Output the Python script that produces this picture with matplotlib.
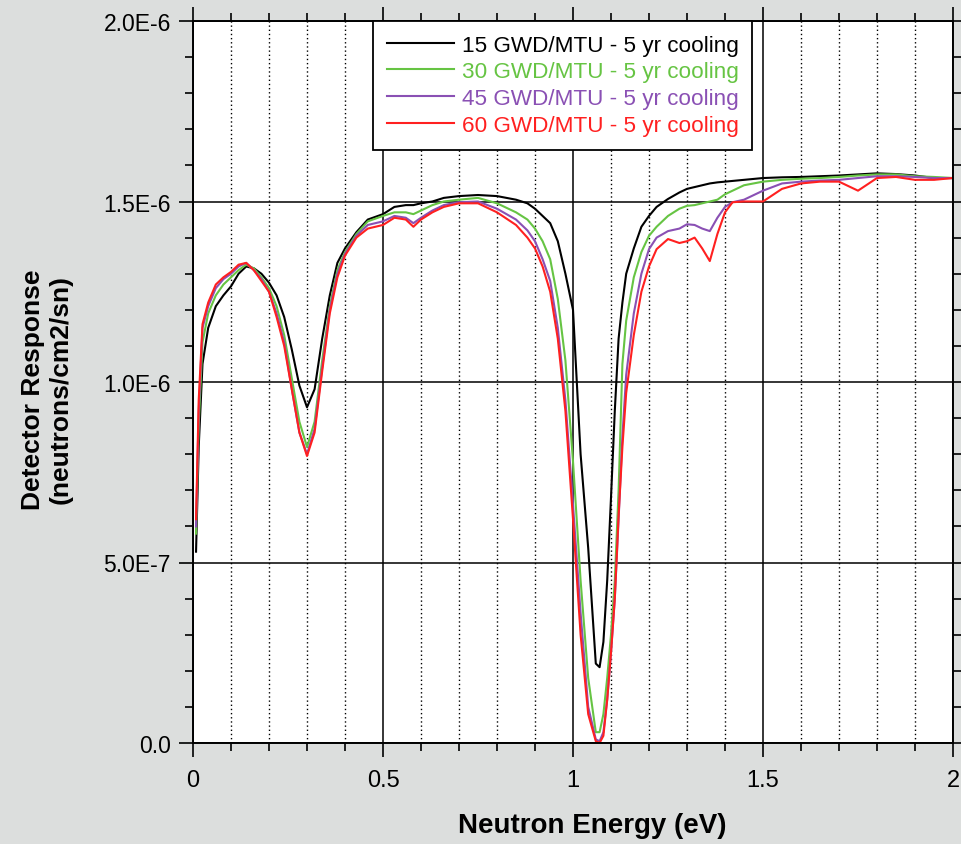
import numpy as np
import matplotlib
matplotlib.use("Agg")
import matplotlib.pyplot as plt
from matplotlib.ticker import MultipleLocator

plt.rcParams['font.family'] = ['Liberation Sans', 'DejaVu Sans']

# energy grid (eV) and detector response (x 1e-6 neutrons/cm2/sn)
energy = [0.008, 0.015, 0.025, 0.04, 0.06, 0.08, 0.10, 0.12, 0.14, 0.16, 0.18, 0.20,
          0.22, 0.24, 0.26, 0.28, 0.30, 0.32, 0.34, 0.36, 0.38, 0.40, 0.43, 0.46,
          0.50, 0.53, 0.56, 0.58, 0.60, 0.63, 0.66, 0.70, 0.75, 0.80, 0.85, 0.88,
          0.90, 0.92, 0.94, 0.96, 0.98, 1.00, 1.02, 1.04, 1.06, 1.07, 1.08, 1.09,
          1.10, 1.11, 1.12, 1.13, 1.14, 1.16, 1.18, 1.20, 1.22, 1.25, 1.28, 1.30,
          1.32, 1.34, 1.36, 1.38, 1.40, 1.42, 1.45, 1.50, 1.55, 1.60, 1.65, 1.70,
          1.75, 1.80, 1.85, 1.90, 1.95, 2.00]

resp_15 = [0.53, 0.82, 1.05, 1.15, 1.21, 1.24, 1.265, 1.30, 1.32, 1.315, 1.30, 1.275,
           1.24, 1.18, 1.09, 0.99, 0.93, 0.98, 1.12, 1.24, 1.33, 1.37, 1.415, 1.45,
           1.465, 1.485, 1.49, 1.49, 1.495, 1.50, 1.51, 1.515, 1.518, 1.515, 1.505, 1.495,
           1.48, 1.46, 1.44, 1.39, 1.30, 1.20, 0.80, 0.54, 0.22, 0.21, 0.28, 0.45,
           0.68, 0.92, 1.12, 1.22, 1.30, 1.37, 1.43, 1.46, 1.485, 1.507, 1.525, 1.535,
           1.54, 1.545, 1.55, 1.553, 1.555, 1.557, 1.56, 1.565, 1.567, 1.568, 1.57, 1.572,
           1.575, 1.578, 1.576, 1.572, 1.565, 1.565]

resp_30 = [0.58, 0.88, 1.11, 1.19, 1.24, 1.27, 1.29, 1.31, 1.325, 1.315, 1.29, 1.26,
           1.21, 1.13, 1.01, 0.89, 0.82, 0.89, 1.06, 1.21, 1.31, 1.36, 1.41, 1.445,
           1.46, 1.47, 1.47, 1.465, 1.475, 1.49, 1.50, 1.505, 1.51, 1.495, 1.47, 1.45,
           1.425, 1.39, 1.34, 1.23, 1.06, 0.78, 0.45, 0.18, 0.03, 0.03, 0.08, 0.18,
           0.30, 0.45, 0.70, 1.05, 1.17, 1.29, 1.36, 1.405, 1.43, 1.46, 1.48, 1.488,
           1.49, 1.495, 1.50, 1.505, 1.52, 1.53, 1.545, 1.555, 1.56, 1.563, 1.565, 1.568,
           1.572, 1.575, 1.575, 1.57, 1.568, 1.565]

resp_45 = [0.60, 0.92, 1.15, 1.21, 1.26, 1.285, 1.30, 1.32, 1.33, 1.31, 1.285, 1.25,
           1.19, 1.11, 0.98, 0.86, 0.80, 0.87, 1.04, 1.20, 1.30, 1.355, 1.405, 1.435,
           1.445, 1.46, 1.455, 1.44, 1.455, 1.475, 1.49, 1.498, 1.50, 1.48, 1.45, 1.42,
           1.39, 1.34, 1.28, 1.15, 0.95, 0.66, 0.36, 0.10, 0.01, 0.005, 0.03, 0.12,
           0.25, 0.40, 0.62, 0.85, 1.02, 1.19, 1.30, 1.368, 1.40, 1.418, 1.425, 1.437,
           1.435, 1.425, 1.418, 1.455, 1.485, 1.498, 1.505, 1.53, 1.55, 1.555, 1.558, 1.56,
           1.565, 1.57, 1.57, 1.568, 1.565, 1.565]

resp_60 = [0.62, 0.95, 1.16, 1.22, 1.27, 1.29, 1.305, 1.325, 1.33, 1.31, 1.28, 1.25,
           1.18, 1.10, 0.98, 0.86, 0.795, 0.86, 1.03, 1.19, 1.29, 1.35, 1.40, 1.425,
           1.435, 1.455, 1.45, 1.43, 1.45, 1.47, 1.485, 1.495, 1.495, 1.47, 1.435, 1.40,
           1.37, 1.32, 1.25, 1.12, 0.92, 0.62, 0.30, 0.08, 0.005, 0.0, 0.02, 0.12,
           0.25, 0.40, 0.63, 0.82, 0.97, 1.13, 1.25, 1.32, 1.368, 1.396, 1.385, 1.39,
           1.40, 1.37, 1.335, 1.41, 1.47, 1.498, 1.50, 1.50, 1.535, 1.55, 1.555, 1.555,
           1.53, 1.565, 1.568, 1.56, 1.56, 1.565]

labels = ["15 GWD/MTU - 5 yr cooling", "30 GWD/MTU - 5 yr cooling",
          "45 GWD/MTU - 5 yr cooling", "60 GWD/MTU - 5 yr cooling"]
colors = ["#000000", "#66c443", "#8a50b4", "#ff2020"]

y_ticks = [0.0, 5e-7, 1e-6, 1.5e-6, 2e-6]
y_ticklabels = ["0.0", "5.0E-7", "1.0E-6", "1.5E-6", "2.0E-6"]
x_ticks = [0, 0.5, 1, 1.5, 2]
x_ticklabels = ["0", "0.5", "1", "1.5", "2"]

bg = "#dcdedd"
fig = plt.figure(figsize=(9.61, 8.45), dpi=100, facecolor=bg)
ax = fig.add_axes([193/961, 101/845, 760/961, 722/845])
ax.set_facecolor("white")

e = np.array(energy)
for vals, lab, col in zip([resp_15, resp_30, resp_45, resp_60], labels, colors):
    ax.plot(e, np.array(vals) * 1e-6, color=col, lw=1.5, label=lab)

ax.set_xlim(0, 2)
ax.set_ylim(0, 2e-6)
ax.set_xticks(x_ticks)
ax.set_xticklabels(x_ticklabels)
ax.set_yticks(y_ticks)
ax.set_yticklabels(y_ticklabels)
ax.xaxis.set_minor_locator(MultipleLocator(0.1))
ax.yaxis.set_minor_locator(MultipleLocator(1e-7))

ax.tick_params(which="both", direction="out", top=True, right=True, color="black", width=1.2)
ax.tick_params(which="major", length=10, labelsize=16.5, pad=6)
ax.tick_params(which="minor", length=6)
ax.tick_params(axis="x", which="major", pad=9)
for t in ax.get_xticklabels():
    t.set_family(["Liberation Sans Narrow", "Liberation Sans"])
    t.set_fontsize(17)

ax.grid(True, which="major", axis="both", color="black", lw=1.1, ls="-")
ax.grid(True, which="minor", axis="x", color="black", lw=1.0, ls=(0, (1, 2)))
ax.set_axisbelow(True)
for s in ax.spines.values():
    s.set_color("black")
    s.set_linewidth(1.4)

leg = ax.legend(loc="upper left", bbox_to_anchor=(180/760, 1.0), fontsize=16.2,
                frameon=True, fancybox=False, framealpha=1, edgecolor="black",
                handlelength=3.0, handletextpad=0.35, labelspacing=0.26,
                borderpad=0.6, borderaxespad=0)
leg.get_frame().set_linewidth(1.3)
for txt, col in zip(leg.get_texts(), colors):
    txt.set_color(col)

fig.text(47/961, 1 - 390/845, "Detector Response\n(neutrons/cm2/sn)", rotation=90,
         ha="center", va="center", fontsize=19, fontweight="bold", linespacing=1.2)
fig.text(592/961, 1 - 826/845, "Neutron Energy (eV)", ha="center", va="center",
         fontsize=20, fontweight="bold")

fig.savefig("out.png", dpi=100, facecolor=bg)
